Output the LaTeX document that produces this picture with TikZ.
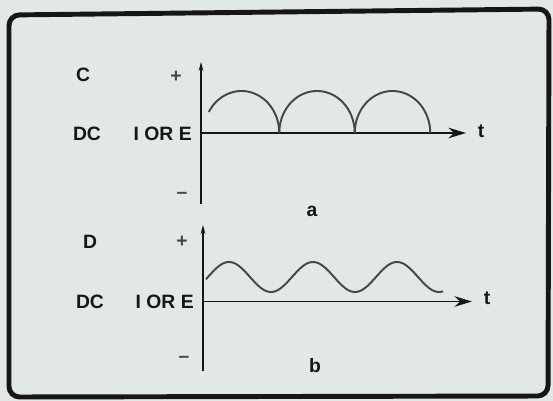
\documentclass[tikz,border=0pt]{standalone}
\usepackage{fontspec}
\setmainfont{Liberation Sans}
\usepackage{xcolor}
\usetikzlibrary{arrows.meta}

\definecolor{paper}{RGB}{226,232,228}
\definecolor{ink}{RGB}{22,22,22}
\definecolor{wave}{RGB}{70,70,70}

\begin{document}
\begin{tikzpicture}[
  x=0.02cm, y=-0.02cm,
  lbl/.style={font=\fontsize{11}{13}\selectfont\bfseries, text=ink, inner sep=0pt},
  sgn/.style={font=\fontsize{11}{13}\selectfont\bfseries, text=wave, inner sep=0pt},
  vaxis/.style={line width=1.1pt, draw=ink, -{Stealth[length=5pt, width=2.6pt]}},
  taxis/.style={line width=1.1pt, draw=ink, -{Stealth[length=10pt, width=6pt]}},
  curve/.style={line width=1.1pt, draw=wave},
]
\fill[paper] (0,0) rectangle (553,401);
\draw[line width=2.8pt, ink, rounded corners=6pt] (9,15) -- (549,9) -- (548,396) -- (9,397) -- cycle;

% panel a
\coordinate (oa) at (201,133);
\coordinate (topa) at (201,62);
\coordinate (bota) at (201,204);
\coordinate (enda) at (466,133);
\node[lbl] (cA) at (83,75) {C};
\node[sgn] (plusA) at (176,77) {+};
\node[lbl] (dcA) at (87,134) {DC};
\node[lbl, anchor=east] (ieA) at (192,134) {I OR E};
\node[sgn] (minusA) at (182,195) {--};
\node[lbl] (tA) at (481,131) {t};
\node[lbl] (capA) at (312,211) {a};
\draw[vaxis] (bota) -- (topa);
\draw[taxis] (oa) -- (enda);
\foreach \cx/\sa in {241.5/210, 317/180, 392.5/180}
  \draw[curve] plot[variable=\t, domain=\sa:360, samples=50]
    ({\cx+37.75*cos(\t)}, {133+42*sin(\t)});

% panel b
\coordinate (ob) at (203,301.5);
\coordinate (topb) at (203,225);
\coordinate (botb) at (203,371);
\coordinate (endb) at (472,301.5);
\node[lbl] (cB) at (90,242) {D};
\node[sgn] (plusB) at (182,242) {+};
\node[lbl] (dcB) at (90,302) {DC};
\node[lbl, anchor=east] (ieB) at (194,302) {I OR E};
\node[sgn] (minusB) at (184,359) {--};
\node[lbl] (tB) at (487,298) {t};
\node[lbl] (capB) at (315,366) {b};
\draw[vaxis] (botb) -- (topb);
\draw[taxis] (ob) -- (endb);
\draw[curve] plot[domain=206:443, samples=150]
  (\x, {277-15*sin(360/84*(\x-208))});
\end{tikzpicture}
\end{document}
